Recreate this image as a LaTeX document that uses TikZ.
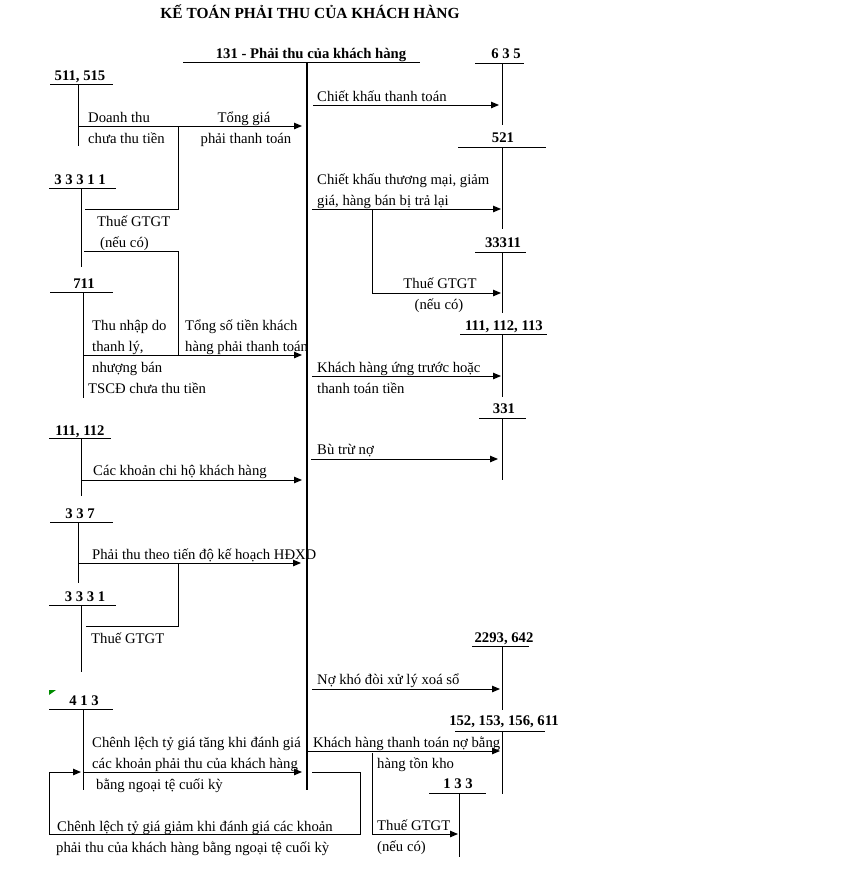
\documentclass[tikz,border=0pt]{standalone}
\usepackage{fontspec}
\setmainfont{Liberation Serif}
\usetikzlibrary{arrows.meta}

\begin{document}
\begin{tikzpicture}[x=1pt,y=-1pt]
\tikzstyle{every node}=[inner sep=0pt, font=\fontsize{14.7}{21}\selectfont]
\tikzstyle{acc}=[anchor=base, font=\fontsize{14.7}{21}\selectfont\bfseries]
\tikzstyle{txt}=[anchor=base west]
\tikzstyle{ctxt}=[anchor=base]
\tikzstyle{tline}=[line width=1pt]
\tikzstyle{link}=[line width=1pt]
\tikzstyle{flow}=[line width=1pt, -{Triangle[length=8pt,width=6.5pt]}]
\useasboundingbox (0,0) rectangle (855,873);

\draw (310,18) node (title) [acc, font=\fontsize{15.4}{18}\selectfont\bfseries] {KẾ TOÁN PHẢI THU CỦA KHÁCH HÀNG};

% tai khoan 131
\draw (311,58) node (a131) [acc] {131 - Phải thu của khách hàng};
\draw[tline] (183,62) -- (420,62);
\draw[line width=1.6pt] (307,62) -- (307,790);

% ben trai
\draw (80,80) node (a511) [acc] {511, 515};
\draw[tline] (50,84) -- (113,84);
\draw[tline] (78,84) -- (78,146);
\draw (80,184) node (a33311L) [acc] {3 3 3 1 1};
\draw[tline] (49,188) -- (116,188);
\draw[tline] (81,188) -- (81,267);
\draw (84,288) node (a711) [acc] {711};
\draw[tline] (50,292) -- (113,292);
\draw[tline] (83,292) -- (83,398);
\draw (80,435) node (a111L) [acc] {111, 112};
\draw[tline] (49,438) -- (111,438);
\draw[tline] (81,438) -- (81,496);
\draw (80,518) node (a337) [acc] {3 3 7};
\draw[tline] (50,522) -- (113,522);
\draw[tline] (78,522) -- (78,583);
\draw (85,601) node (a3331) [acc] {3 3 3 1};
\draw[tline] (49,605) -- (116,605);
\draw[tline] (81,605) -- (81,672);
\draw (84,705) node (a413) [acc] {4 1 3};
\draw[tline] (49,709) -- (113,709);
\draw[tline] (83,709) -- (83,790);
\fill[green!55!black] (49,690) -- (56,690) -- (49,695) -- cycle;

% ben phai
\draw (506,58) node (a635) [acc] {6 3 5};
\draw[tline] (475,63) -- (524,63);
\draw[tline] (502,63) -- (502,125);
\draw (503,142) node (a521) [acc] {521};
\draw[tline] (458,147) -- (546,147);
\draw[tline] (502,147) -- (502,229);
\draw (503,247) node (a33311R) [acc] {33311};
\draw[tline] (475,252) -- (526,252);
\draw[tline] (502,252) -- (502,313);
\draw (504,330) node (a111R) [acc] {111, 112, 113};
\draw[tline] (460,334) -- (547,334);
\draw[tline] (502,334) -- (502,397);
\draw (504,413) node (a331) [acc] {331};
\draw[tline] (479,418) -- (526,418);
\draw[tline] (502,418) -- (502,480);
\draw (504,642) node (a2293) [acc] {2293, 642};
\draw[tline] (472,646) -- (529,646);
\draw[tline] (502,646) -- (502,710);
\draw (504,725) node (a152) [acc] {152, 153, 156, 611};
\draw[tline] (455,731) -- (545,731);
\draw[tline] (502,731) -- (502,794);
\draw (458,788) node (a133) [acc] {1 3 3};
\draw[tline] (429,793) -- (486,793);
\draw[tline] (459,793) -- (459,857);

% diem noi
\coordinate (p511) at (78,126);
\coordinate (j511) at (178,126);
\coordinate (in511) at (302,126);
\coordinate (p33311) at (85,209);
\coordinate (q33311) at (84,251);
\coordinate (p711) at (83,355);
\coordinate (j711) at (178,355);
\coordinate (in711) at (302,355);
\coordinate (p111) at (81,480);
\coordinate (in111) at (302,480);
\coordinate (p337) at (78,563);
\coordinate (j337) at (178,563);
\coordinate (in337) at (301,563);
\coordinate (p3331) at (86,626);
\coordinate (p413) at (83,772);
\coordinate (in413) at (302,772);
\coordinate (out413) at (312,772);
\coordinate (r413) at (360,834);
\coordinate (l413) at (49,834);
\coordinate (back413) at (81,772);
\coordinate (o635) at (313,105);
\coordinate (in635) at (499,105);
\coordinate (o521) at (312,209);
\coordinate (in521) at (501,209);
\coordinate (j521) at (372,209);
\coordinate (in33311) at (501,293);
\coordinate (o111) at (312,376);
\coordinate (in111R) at (501,376);
\coordinate (o331) at (311,459);
\coordinate (in331) at (498,459);
\coordinate (o2293) at (312,689);
\coordinate (in2293) at (500,689);
\coordinate (o152) at (307,751);
\coordinate (in152) at (500,751);
\coordinate (j152) at (372,753);
\coordinate (in133) at (458,834);

\draw[flow] (p511) -- (in511);
\draw[link] (p33311) -| (j511);
\draw[link] (q33311) -| (j711);
\draw[flow] (p711) -- (in711);
\draw[flow] (p111) -- (in111);
\draw[flow] (p337) -- (in337);
\draw[link] (p3331) -| (j337);
\draw[flow] (p413) -- (in413);
\draw[flow] (out413) -| (r413) -- (l413) |- (back413);
\draw[flow] (o635) -- (in635);
\draw[flow] (o521) -- (in521);
\draw[flow] (j521) |- (in33311);
\draw[flow] (o111) -- (in111R);
\draw[flow] (o331) -- (in331);
\draw[flow] (o2293) -- (in2293);
\draw[flow] (o152) -- (in152);
\draw[flow] (j152) |- (in133);

% chu thich ben trai
\draw (88,122) node (tDoanh) [txt] {Doanh thu};
\draw (88,143) node (tChua) [txt] {chưa thu tiền};
\draw (244,122) node (tTongGia) [ctxt] {Tổng giá};
\draw (246,143) node (tPhaiTT) [ctxt] {phải thanh toán};
\draw (97,226) node (tThue1) [txt] {Thuế GTGT};
\draw (100,247) node (tNeu1) [txt] {(nếu có)};
\draw (92,330) node (tThuNhap) [txt] {Thu nhập do};
\draw (92,351) node (tThanhLy) [txt] {thanh lý,};
\draw (92,372) node (tNhuong) [txt] {nhượng bán};
\draw (88,393) node (tTSCD) [txt] {TSCĐ chưa thu tiền};
\draw (185,330) node (tTongSo) [txt] {Tổng số tiền khách};
\draw (185,351) node (tHangPhai) [txt] {hàng phải thanh toán};
\draw (93,475) node (tChiHo) [txt] {Các khoản chi hộ khách hàng};
\draw (92,559) node (tTienDo) [txt] {Phải thu theo tiến độ kế hoạch HĐXD};
\draw (91,643) node (tThue2) [txt] {Thuế GTGT};
\draw (92,747) node (tTang1) [txt] {Chênh lệch tỷ giá tăng khi đánh giá};
\draw (92,768) node (tTang2) [txt] {các khoản phải thu của khách hàng};
\draw (96,789) node (tTang3) [txt] {bằng ngoại tệ cuối kỳ};
\draw (57,831) node (tGiam1) [txt] {Chênh lệch tỷ giá giảm khi đánh giá các khoản};
\draw (56,852) node (tGiam2) [txt] {phải thu của khách hàng bằng ngoại tệ cuối kỳ};

% chu thich ben phai
\draw (317,101) node (tCKTT) [txt] {Chiết khấu thanh toán};
\draw (317,184) node (tCKTM1) [txt] {Chiết khấu thương mại, giảm};
\draw (317,205) node (tCKTM2) [txt] {giá, hàng bán bị trả lại};
\draw (440,288) node (tThue3) [ctxt] {Thuế GTGT};
\draw (439,309) node (tNeu3) [ctxt] {(nếu có)};
\draw (317,372) node (tUng1) [txt] {Khách hàng ứng trước hoặc};
\draw (317,393) node (tUng2) [txt] {thanh toán tiền};
\draw (317,454) node (tBuTru) [txt] {Bù trừ nợ};
\draw (317,684) node (tNoKho) [txt] {Nợ khó đòi xử lý xoá sổ};
\draw (313,747) node (tHTK1) [txt] {Khách hàng thanh toán nợ bằng};
\draw (377,768) node (tHTK2) [txt] {hàng tồn kho};
\draw (377,830) node (tThue4) [txt] {Thuế GTGT};
\draw (377,851) node (tNeu4) [txt] {(nếu có)};
\end{tikzpicture}
\end{document}
